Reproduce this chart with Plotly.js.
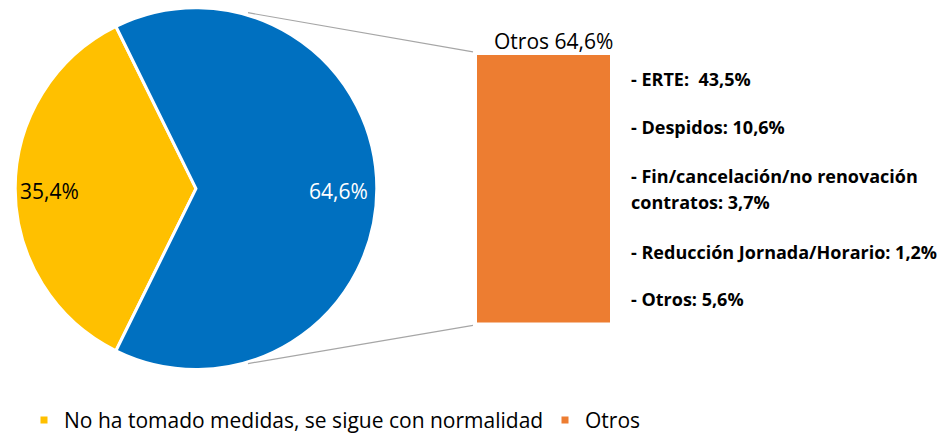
<!DOCTYPE html>
<html>
<head>
<meta charset="utf-8">
<script src="https://cdn.plot.ly/plotly-3.0.1.min.js"></script>
<style>html,body{margin:0;padding:0;background:#fff;}#chart{width:939px;height:441px;}</style>
</head>
<body>
<div id="chart"></div>
<script>
// ---- data ----
const pieLabels = ['No ha tomado medidas, se sigue con normalidad', 'Otros'];
const pieValues = [35.4, 64.6];
const pieColors = ['#FFC000', '#0070C0'];
const barLabel = 'Otros';
const barValue = 64.6;
const barColor = '#ED7D31';
const detailLabels = ['ERTE', 'Despidos', 'Fin/cancelación/no renovación\ncontratos', 'Reducción Jornada/Horario', 'Otros'];
const detailValues = [43.5, 10.6, 3.7, 1.2, 5.6];

// ---- helpers ----
const W = 939, H = 441;
const px = x => x / W;
const py = y => 1 - y / H;
const fmt = v => v.toFixed(1).replace('.', ',') + '%';
const FONT = 'Open Sans, sans-serif';

const total = pieValues.reduce((a, b) => a + b, 0);
const halfFirst = 360 * pieValues[0] / total / 2;

const traces = [
  {
    type: 'pie',
    labels: pieLabels,
    values: pieValues,
    sort: false,
    direction: 'clockwise',
    rotation: 270 - halfFirst,
    marker: {colors: pieColors, line: {color: '#ffffff', width: 3}},
    textinfo: 'none',
    hoverinfo: 'none',
    showlegend: false,
    domain: {x: [px(11), px(381)], y: [py(378), py(8)]}
  },
  {
    type: 'bar',
    x: [barLabel],
    y: [barValue],
    marker: {color: barColor},
    hoverinfo: 'none',
    showlegend: false,
    xaxis: 'x', yaxis: 'y'
  },
  {
    type: 'scatter', mode: 'markers', x: [null], y: [null],
    name: pieLabels[0],
    marker: {symbol: 'square', size: 7, color: pieColors[0]},
    legend: 'legend', showlegend: true, xaxis: 'x', yaxis: 'y'
  },
  {
    type: 'scatter', mode: 'markers', x: [null], y: [null],
    name: barLabel,
    marker: {symbol: 'square', size: 7, color: barColor},
    legend: 'legend2', showlegend: true, xaxis: 'x', yaxis: 'y'
  }
];

const annotations = [];
// pie labels
annotations.push({x: px(49), y: py(195), xref: 'paper', yref: 'paper', text: fmt(pieValues[0]),
  showarrow: false, xanchor: 'center', yanchor: 'middle', font: {family: FONT, size: 21, color: '#000000'}});
annotations.push({x: px(338), y: py(195), xref: 'paper', yref: 'paper', text: fmt(pieValues[1]),
  showarrow: false, xanchor: 'center', yanchor: 'middle', font: {family: FONT, size: 21, color: '#ffffff'}});
// bar label
annotations.push({x: px(553), y: py(42), xref: 'paper', yref: 'paper', text: barLabel + ' ' + fmt(barValue),
  showarrow: false, xanchor: 'center', yanchor: 'middle', font: {family: FONT, size: 21, color: '#000000'}});
// detail texts (one annotation per printed line)
const detailY = [[81], [130], [180, 207], [258], [306]];
detailLabels.forEach((lab, i) => {
  const sep = i === 0 ? ':&nbsp; ' : ': ';
  const lines = ('- ' + lab + sep + fmt(detailValues[i])).split('\n');
  lines.forEach((ln, j) => {
    annotations.push({x: px(629), y: py(detailY[i][j]), xref: 'paper', yref: 'paper',
      text: '<b>' + ln + '</b>',
      showarrow: false, xanchor: 'left', yanchor: 'middle', align: 'left',
      font: {family: FONT, size: 18, color: '#000000'}});
  });
});

const shapes = [
  {type: 'line', xref: 'paper', yref: 'paper', x0: px(248), y0: py(13), x1: px(473), y1: py(53), line: {color: '#A6A6A6', width: 1.2}},
  {type: 'line', xref: 'paper', yref: 'paper', x0: px(248), y0: py(372), x1: px(473), y1: py(333), line: {color: '#A6A6A6', width: 1.2}}
];

const layout = {
  width: W, height: H,
  margin: {l: 0, r: 0, t: 0, b: 0},
  paper_bgcolor: '#ffffff', plot_bgcolor: 'rgba(0,0,0,0)',
  separators: ',.',
  bargap: 0,
  xaxis: {domain: [px(477), px(610)], range: [-0.5, 0.5], type: 'category', visible: false, fixedrange: true},
  yaxis: {domain: [py(330), py(56)], range: [0, barValue], visible: false, fixedrange: true},
  legend: {x: px(24), y: py(430), xanchor: 'left', yanchor: 'middle', orientation: 'h',
    font: {family: FONT, size: 21, color: '#000000'}, bgcolor: 'rgba(0,0,0,0)'},
  legend2: {x: px(545), y: py(430), xanchor: 'left', yanchor: 'middle', orientation: 'h',
    font: {family: FONT, size: 21, color: '#000000'}, bgcolor: 'rgba(0,0,0,0)'},
  annotations: annotations,
  shapes: shapes,
  showlegend: true
};

Plotly.newPlot('chart', traces, layout, {displayModeBar: false, staticPlot: true});
</script>
</body>
</html>
